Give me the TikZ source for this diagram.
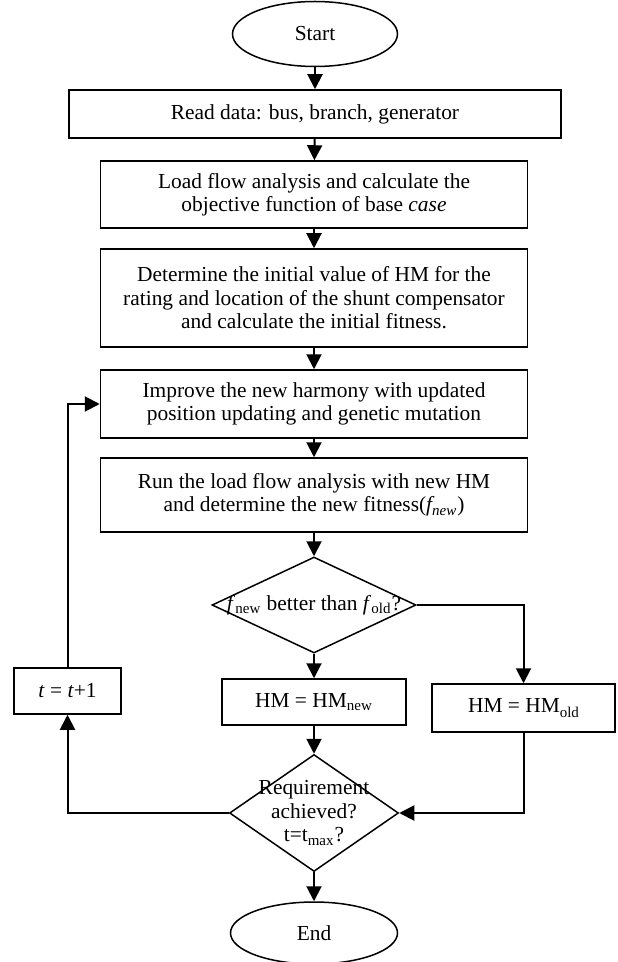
\documentclass[tikz,border=0pt]{standalone}
\usepackage{fontspec}
\setmainfont{Liberation Serif}
\usetikzlibrary{shapes.geometric,arrows.meta}
\begin{document}
\begin{tikzpicture}[x=0.5pt,y=-0.5pt,
    every node/.style={font=\fontsize{10.7}{11.7}\selectfont},
    term/.style={draw,ellipse,line width=0.75pt,inner sep=0pt},
    proc/.style={draw,rectangle,line width=0.75pt,align=center,inner sep=0pt},
    decision/.style={draw,diamond,line width=0.75pt,inner sep=0pt}]
  \useasboundingbox (0,0) rectangle (617,962);
  \node[term,minimum width=82.5pt,minimum height=32.5pt] (start) at (315,34) {Start};
  \node[proc,minimum width=246pt,minimum height=24pt] (read) at (315,114)
    {Read data: bus, branch, generator};
  \node[proc,minimum width=213.5pt,minimum height=33.5pt] (load) at (314,194.5)
    {Load flow analysis and calculate the\\objective function of base \textit{case}};
  \node[proc,minimum width=213.5pt,minimum height=49pt] (init) at (314,298)
    {Determine the initial value of HM for the\\rating and location of the shunt compensator\\and calculate the initial fitness.};
  \node[proc,minimum width=213.5pt,minimum height=34pt] (improve) at (314,404)
    {Improve the new harmony with updated\\position updating and genetic mutation};
  \node[proc,minimum width=213.5pt,minimum height=37pt] (run) at (314,495)
    {Run the load flow analysis with new HM\\and determine the new fitness(\textit{f\textsubscript{new}})};
  \node[decision,minimum width=102pt,minimum height=48pt,
    label={center:\textit{f}\textsubscript{new} better than \textit{f}\textsubscript{old}?}] (better) at (314,605) {};
  \node[proc,minimum width=92pt,minimum height=23pt] (hmnew) at (314,702)
    {HM = HM\textsubscript{new}};
  \node[proc,minimum width=91.5pt,minimum height=24pt] (hmold) at (523.5,708)
    {HM = HM\raisebox{-0.55ex}{\fontsize{7.5}{8}\selectfont old}};
  \node[proc,minimum width=53.5pt,minimum height=23pt] (tinc) at (67.5,691)
    {\textit{t} = \textit{t}+1};
  \node[decision,minimum width=84.5pt,minimum height=58.5pt,
    label={[align=center]center:Requirement\\achieved?\\t=t\textsubscript{max}?}] (req) at (314,813) {};
  \node[term,minimum width=83.5pt,minimum height=31pt] (stop) at (314,933) {End};
  \begin{scope}[-{Triangle[length=7.5pt,width=7.5pt]},line width=1pt]
    \draw (start) to (read);
    \draw (read) to (load);
    \draw (load) to (init);
    \draw (init) to (improve);
    \draw (improve) to (run);
    \draw (run) to (better);
    \draw (better) to (hmnew);
    \draw (hmnew) to (req);
    \draw (better) -| (hmold);
    \draw (hmold) |- (req);
    \draw (req) -| (tinc);
    \draw (tinc) |- (improve);
    \draw (req) to (stop);
  \end{scope}
\end{tikzpicture}
\end{document}
